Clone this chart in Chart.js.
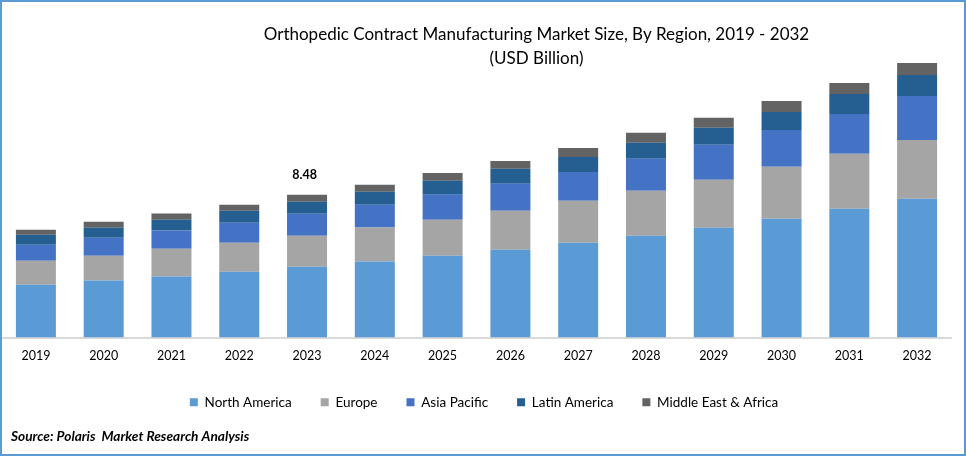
<!DOCTYPE html>
<html>
<head>
<meta charset="utf-8">
<style>html,body{margin:0;padding:0;background:#fff}canvas{display:block}</style>
<script src="https://cdn.jsdelivr.net/npm/chart.js@4"></script>
</head>
<body>
<canvas id="c" width="966" height="456"></canvas>
<script>
const years = ["2019","2020","2021","2022","2023","2024","2025","2026","2027","2028","2029","2030","2031","2032"];
const northAmerica = [3.14,3.38,3.62,3.91,4.21,4.51,4.86,5.22,5.63,6.05,6.52,7.06,7.65,8.24];
const europe = [1.42,1.48,1.66,1.72,1.84,2.02,2.14,2.31,2.49,2.67,2.85,3.08,3.26,3.50];
const asiaPacific = [0.95,1.07,1.07,1.19,1.30,1.36,1.48,1.60,1.72,1.90,2.08,2.19,2.37,2.61];
const latinAmerica = [0.59,0.59,0.65,0.71,0.71,0.77,0.83,0.89,0.89,0.95,1.01,1.07,1.19,1.25];
const middleEastAfrica = [0.30,0.36,0.36,0.36,0.42,0.42,0.47,0.47,0.53,0.59,0.59,0.65,0.65,0.71];
const titleLines = ["Orthopedic Contract Manufacturing Market Size, By Region, 2019 - 2032","(USD Billion)"];
const sourceText = "Source: Polaris  Market Research Analysis";
const labelledYear = "2023";
const labelledValue = "8.48";
const FONT = "Lato";

const extras = {
  id: "extras",
  afterLayout(chart) {
    chart.titleBlock.left += 60;
    chart.titleBlock.right += 60;
    chart.legend.top -= 8;
    chart.legend.bottom -= 8;
    chart.legend.left += 7.5;
    chart.legend.right += 7.5;
  },
  afterDraw(chart) {
    const ctx = chart.ctx, x = chart.scales.x, y = chart.scales.y;
    const i = years.indexOf(labelledYear);
    ctx.save();
    ctx.fillStyle = "#000";
    ctx.textAlign = "center";
    ctx.textBaseline = "middle";
    ctx.font = "bold 12.5px " + FONT;
    ctx.fillText(labelledValue, x.getPixelForValue(i) - 2.5, y.getPixelForValue(Number(labelledValue)) - 19.5);
    ctx.textAlign = "left";
    ctx.font = "italic bold 13.7px " + FONT;
    ctx.fillText(sourceText, 11, 437);
    ctx.strokeStyle = "#5b9bd5";
    ctx.lineWidth = 2;
    ctx.strokeRect(1, 1, chart.width - 2, chart.height - 2);
    ctx.restore();
  }
};

const mk = (label, data, color) => ({label, data, backgroundColor: color, stack: "s", barPercentage: 0.59, categoryPercentage: 1, borderWidth: 0});

new Chart(document.getElementById("c"), {
  type: "bar",
  data: {labels: years, datasets: [
    mk("North America", northAmerica, "#5b9bd5"),
    mk("Europe", europe, "#a5a5a5"),
    mk("Asia Pacific", asiaPacific, "#4472c4"),
    mk("Latin America", latinAmerica, "#255e91"),
    mk("Middle East & Africa", middleEastAfrica, "#636363")
  ]},
  options: {
    responsive: false,
    devicePixelRatio: 1,
    animation: false,
    layout: {padding: {left: 2, right: 15, top: 0, bottom: 29}},
    plugins: {
      title: {display: true, text: titleLines, color: "#000", font: {family: FONT, size: 17, weight: "normal", lineHeight: 1.41}, padding: {top: 23, bottom: -12}},
      legend: {position: "bottom", labels: {color: "#000", font: {family: FONT, size: 13.5}, boxWidth: 8, boxHeight: 8, padding: 29}},
      tooltip: {enabled: false}
    },
    scales: {
      x: {stacked: true, grid: {display: false, drawTicks: false}, border: {color: "#d9d9d9", width: 2}, ticks: {color: "#000", font: {family: FONT, size: 12.5}, padding: 11, maxRotation: 0}},
      y: {stacked: true, display: false, min: 0, max: 16.55}
    }
  },
  plugins: [extras]
});
</script>
</body>
</html>
